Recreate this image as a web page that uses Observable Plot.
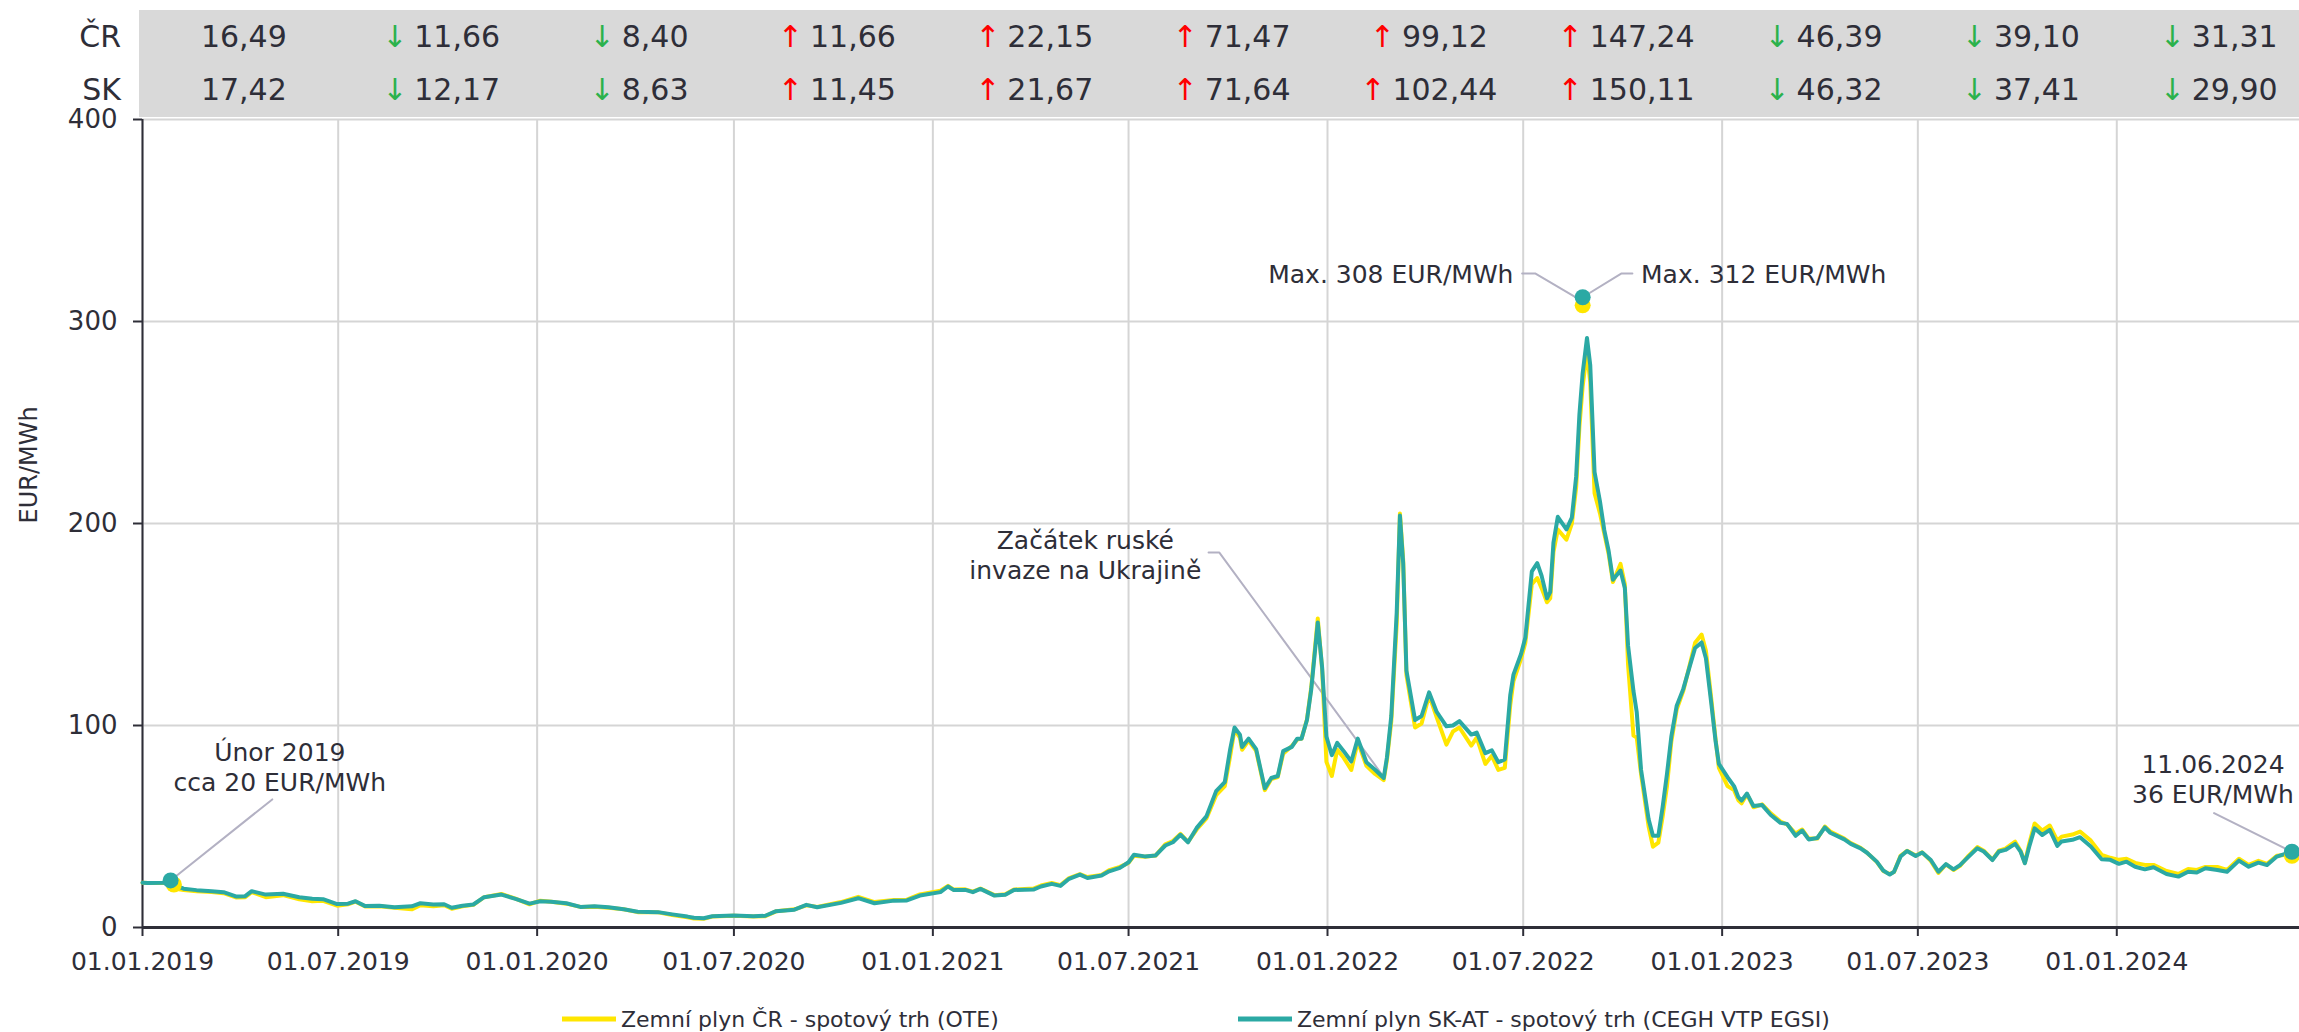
<!DOCTYPE html>
<html><head><meta charset="utf-8">
<script src="https://cdn.jsdelivr.net/npm/d3@7"></script>
<script src="https://cdn.jsdelivr.net/npm/@observablehq/plot@0.6"></script>
<style>
body{margin:0;background:#fff;font-family:"DejaVu Sans",sans-serif;color:#2e2e38;}
#wrap{position:relative;width:2299px;height:1032px;overflow:hidden;}
#chart{position:absolute;left:0;top:0;}
#band{position:absolute;left:139px;top:10px;width:2160px;height:107px;background:#d9d9d9;}
.cell{position:absolute;transform:translate(-50%,-50%);font-size:30px;white-space:nowrap;line-height:1;color:#2e2e38;}
.rowlab{position:absolute;transform:translate(-100%,-50%);font-size:30px;line-height:1;color:#2e2e38;}
.up{color:#ff0000;margin-right:7px}
.down{color:#2bb24c;margin-right:7px}
.leg{position:absolute;top:1019px;transform:translateY(-50%);display:flex;align-items:center;font-size:22px;white-space:nowrap;color:#2e2e38;}
.sw{width:54px;height:5px;margin-right:5px}
</style></head>
<body><div id="wrap"><div id="chart"></div><div id="band"></div></div>
<script>
// ---- time series ----
const dates = [
"2019-01-01","2019-01-06","2019-01-21","2019-01-27","2019-02-02","2019-02-08","2019-02-20","2019-03-06","2019-03-17","2019-03-29",
"2019-04-06","2019-04-12","2019-04-25","2019-05-11","2019-05-26","2019-06-07","2019-06-17","2019-06-30","2019-07-10","2019-07-17",
"2019-07-26","2019-08-08","2019-08-22","2019-09-07","2019-09-15","2019-09-27","2019-10-07","2019-10-14","2019-10-24","2019-11-03",
"2019-11-13","2019-11-29","2019-12-12","2019-12-25",
"2020-01-04","2020-01-14","2020-01-28","2020-02-10","2020-02-23","2020-03-07","2020-03-21","2020-04-03","2020-04-22","2020-05-05",
"2020-05-19","2020-05-25","2020-06-03","2020-06-11","2020-07-01","2020-07-19","2020-07-30","2020-08-09","2020-08-26","2020-09-06",
"2020-09-16","2020-10-08","2020-10-24","2020-11-08","2020-11-26","2020-12-08","2020-12-20",
"2021-01-08","2021-01-15","2021-01-20","2021-01-31","2021-02-07","2021-02-14","2021-02-27","2021-03-09","2021-03-17","2021-04-04",
"2021-04-11","2021-04-21","2021-04-29","2021-05-07","2021-05-17","2021-05-24","2021-06-06","2021-06-13","2021-06-23","2021-07-01",
"2021-07-06","2021-07-16","2021-07-26","2021-08-04","2021-08-11","2021-08-18","2021-08-25","2021-09-02","2021-09-11","2021-09-20",
"2021-09-28","2021-10-03","2021-10-07","2021-10-12","2021-10-14","2021-10-20","2021-10-27","2021-11-04","2021-11-10","2021-11-16",
"2021-11-21","2021-11-29","2021-12-04","2021-12-08","2021-12-13","2021-12-17","2021-12-23","2021-12-27","2021-12-31",
"2022-01-05","2022-01-10","2022-01-16","2022-01-23","2022-01-29","2022-02-06","2022-02-14","2022-02-22","2022-02-25","2022-03-01",
"2022-03-06","2022-03-09","2022-03-12","2022-03-15","2022-03-23","2022-03-29","2022-04-05","2022-04-12","2022-04-21","2022-04-27",
"2022-05-03","2022-05-14","2022-05-19","2022-05-27","2022-06-02","2022-06-08","2022-06-14","2022-06-19","2022-06-22","2022-06-29",
"2022-07-03","2022-07-09","2022-07-14","2022-07-18","2022-07-23","2022-07-26","2022-07-29","2022-08-02","2022-08-10","2022-08-15",
"2022-08-19","2022-08-22","2022-08-25","2022-08-29","2022-09-01","2022-09-05","2022-09-10","2022-09-14","2022-09-18","2022-09-22",
"2022-09-29","2022-10-03","2022-10-06","2022-10-11","2022-10-14","2022-10-18","2022-10-25","2022-10-29","2022-11-03","2022-11-07",
"2022-11-11","2022-11-15","2022-11-20","2022-11-26","2022-12-02","2022-12-07","2022-12-13","2022-12-17","2022-12-22","2022-12-26",
"2022-12-29",
"2023-01-06","2023-01-12","2023-01-16","2023-01-19","2023-01-24","2023-01-30","2023-02-07","2023-02-15","2023-02-24","2023-03-02",
"2023-03-10","2023-03-16","2023-03-22","2023-03-30","2023-04-06","2023-04-11","2023-04-24","2023-04-30","2023-05-09","2023-05-15",
"2023-05-24","2023-05-30","2023-06-05","2023-06-09","2023-06-15","2023-06-21","2023-06-29","2023-07-05","2023-07-13","2023-07-20",
"2023-07-27","2023-08-03","2023-08-09","2023-08-17","2023-08-25","2023-08-31","2023-09-08","2023-09-14","2023-09-20","2023-09-29",
"2023-10-04","2023-10-08","2023-10-12","2023-10-17","2023-10-24","2023-10-31","2023-11-07","2023-11-11","2023-11-21","2023-11-28",
"2023-12-08","2023-12-18","2023-12-26",
"2024-01-03","2024-01-10","2024-01-18","2024-01-27","2024-02-04","2024-02-16","2024-02-27","2024-03-07","2024-03-15","2024-03-23",
"2024-04-03","2024-04-12","2024-04-23","2024-05-02","2024-05-11","2024-05-19","2024-05-28","2024-06-06","2024-06-11"
];
// Zemní plyn SK-AT - spotový trh (CEGH VTP EGSI)
const skValues = [
22.2,22.0,22.2,22.8,20.5,19.2,18.5,18.0,17.5,15.3,
15.5,18.0,16.3,16.7,15.0,14.2,14.0,11.6,11.8,13.0,
10.6,10.8,10.0,10.5,12.0,11.4,11.5,9.8,10.8,11.4,
15.0,16.3,14.2,11.8,
13.0,12.8,12.0,10.2,10.5,10.0,9.0,7.8,7.6,6.5,
5.4,4.8,4.6,5.6,5.9,5.6,5.8,8.1,8.8,11.2,
10.0,12.2,14.5,12.0,13.3,13.4,15.8,
17.5,20.3,18.6,18.6,17.5,19.1,15.8,16.2,18.6,18.8,
20.3,21.6,20.6,24.1,26.2,24.5,25.7,27.8,29.5,32.3,
36.0,35.2,35.7,40.6,42.2,45.9,42.2,49.3,55.0,67.5,
72.0,88.3,99.0,95.5,89.4,93.5,88.3,68.9,74.0,75.0,
87.3,89.4,93.5,93.5,102.7,118.0,151.0,129.0,94.5,
85.3,91.4,87.3,82.2,93.5,81.8,78.1,74.0,84.3,104.7,
155.8,203.9,180.4,127.2,102.7,104.7,116.4,106.7,99.6,100.0,
102.2,95.5,96.5,86.3,87.7,81.8,83.2,114.9,125.2,135.4,
143.6,176.3,180.4,174.2,163.0,166.0,190.6,203.3,197.1,202.9,
223.3,254.0,274.4,291.8,278.5,225.4,211.0,196.7,186.5,172.2,
176.7,168.1,139.5,117.0,106.7,78.1,53.6,45.4,45.4,59.7,
76.1,94.5,109.8,118.0,129.2,138.4,141.1,133.3,110.8,92.0,
81.0,
74.4,70.0,64.5,62.8,66.3,60.1,60.6,55.7,51.8,51.3,
45.4,48.0,43.6,44.3,49.6,46.9,43.6,41.4,39.2,37.0,
32.6,28.2,26.2,27.6,35.1,37.9,35.4,37.1,33.4,27.6,
31.4,28.8,30.9,35.1,39.2,37.6,33.4,37.6,38.4,41.4,
37.6,31.8,40.0,49.1,45.8,48.3,40.4,42.6,43.4,44.7,
40.1,33.8,33.5,
31.5,32.6,30.1,28.8,29.8,26.5,25.2,27.6,27.2,29.3,
28.5,27.6,33.1,30.1,32.1,30.9,35.1,36.7,37.0
];
// Zemní plyn ČR - spotový trh (OTE)
const crValues = [
22.2,22.0,22.0,21.5,19.0,18.6,18.0,17.6,17.0,14.8,
15.0,17.5,15.0,16.0,14.0,13.0,13.2,10.8,11.5,12.8,
10.4,10.5,9.8,9.0,11.0,10.5,11.0,9.3,10.5,11.2,
15.0,16.6,14.3,11.5,
13.3,12.8,11.8,10.2,10.3,9.8,9.0,7.6,7.5,6.2,
5.0,4.4,4.3,5.4,5.8,5.5,5.6,8.0,9.0,11.0,
10.2,12.6,15.2,12.6,13.6,13.8,16.4,
18.2,20.6,18.8,18.9,17.8,19.3,16.0,16.5,18.8,19.3,
20.8,22.0,21.0,24.5,26.4,25.0,26.0,28.4,30.0,32.0,
35.5,35.0,35.6,41.2,42.8,46.3,42.4,48.5,54.0,65.5,
70.0,85.0,98.0,94.0,88.0,92.5,87.5,68.0,73.5,74.5,
86.0,89.8,93.0,93.5,103.0,119.0,153.0,128.0,82.0,
75.0,88.0,84.0,78.0,92.0,80.0,76.0,73.0,83.0,102.0,
150.0,205.0,182.0,125.0,99.0,101.0,115.0,104.0,90.5,97.0,
99.0,90.0,94.0,81.0,85.0,78.0,79.0,110.0,122.0,133.0,
141.0,170.0,173.0,168.0,161.0,163.0,186.0,197.0,192.0,200.0,
218.0,248.0,268.0,285.0,270.0,215.0,205.0,195.0,185.0,171.0,
180.0,170.0,130.0,95.0,94.0,76.0,50.0,40.0,42.0,55.0,
70.0,92.0,108.0,117.0,130.0,141.0,145.0,137.0,113.0,93.0,
79.0,
70.0,68.0,63.0,61.5,66.0,59.5,61.0,56.5,52.5,51.0,
46.5,48.5,44.0,44.0,50.0,47.5,44.0,41.8,39.5,37.0,
32.5,28.0,26.5,27.5,35.5,38.0,35.6,37.2,33.0,27.0,
31.2,28.5,30.5,35.6,39.8,38.0,33.6,38.0,39.0,42.5,
38.0,32.0,41.5,51.5,48.0,50.5,43.0,45.0,46.0,47.5,
43.0,36.0,34.5,
33.5,34.0,32.0,31.0,31.0,28.0,26.5,29.0,28.5,30.0,
30.0,28.5,34.0,31.0,33.0,31.5,35.5,36.0,35.5
];
if (dates.length !== skValues.length || dates.length !== crValues.length)
  throw new Error("length mismatch " + dates.length + " " + skValues.length + " " + crValues.length);

// ---- axis ticks / half-year periods ----
const xTicks = ["2019-01-01","2019-07-01","2020-01-01","2020-07-01","2021-01-01","2021-07-01",
                "2022-01-01","2022-07-01","2023-01-01","2023-07-01","2024-01-01"];
const yTicks = [0,100,200,300,400];
const xDomain = ["2019-01-01","2024-06-18"];

// ---- half-year averages table ----
const rowLabels = ["ČR","SK"];
const crAvg = ["16,49","11,66","8,40","11,66","22,15","71,47","99,12","147,24","46,39","39,10","31,31"];
const skAvg = ["17,42","12,17","8,63","11,45","21,67","71,64","102,44","150,11","46,32","37,41","29,90"];

// ---- annotations ----
const skDotDates = ["2019-01-27","2022-08-25","2024-06-11"];
const skDotValues = [23.3, 312, 37.5];
const crDotDates = ["2019-01-30","2022-08-25","2024-06-11"];
const crDotValues = [21.3, 308, 35.5];

const noteMidTexts = ["Únor 2019\ncca 20 EUR/MWh","Začátek ruské\ninvaze na Ukrajině","11.06.2024\n36 EUR/MWh"];
const noteMidDates = ["2019-05-08","2021-05-22","2024-03-30"];
const noteMidValues = [79.7, 184.7, 74];
const noteLeftText = ["Max. 308 EUR/MWh"];
const noteLeftDate = ["2022-06-22"];
const noteRightText = ["Max. 312 EUR/MWh"];
const noteRightDate = ["2022-10-18"];
const noteMaxValue = 322.8;

const leaderIds    = [0,0, 1,1,1, 2,2,2, 3,3,3, 4,4];
const leaderDates  = ["2019-05-01","2019-01-27",
                      "2021-09-13","2021-09-23","2022-02-20",
                      "2022-06-30","2022-07-12","2022-08-25",
                      "2022-08-25","2022-09-30","2022-10-10",
                      "2024-03-31","2024-06-11"];
const leaderValues = [63.4,23.3, 185.6,185.6,76, 323.8,323.8,310, 312,323.8,323.8, 56.6,37.5];

const COL_CR = "#FFE600", COL_SK = "#2BA9A4", INK = "#2e2e38", GRID = "#d5d5d5", LEAD = "#b3b1c3";

const D = s => new Date(s);
const crRows = dates.map((d,i) => ({date: D(d), value: crValues[i]}));
const skRows = dates.map((d,i) => ({date: D(d), value: skValues[i]}));
const crDots = crDotDates.map((d,i) => ({date: D(d), value: crDotValues[i]}));
const skDots = skDotDates.map((d,i) => ({date: D(d), value: skDotValues[i]}));
const midNotes = noteMidTexts.map((t,i) => ({text: t, date: D(noteMidDates[i]), value: noteMidValues[i]}));
const leaders = leaderIds.map((id,i) => ({id, date: D(leaderDates[i]), value: leaderValues[i]}));
const tickDates = xTicks.map(D);

const chart = Plot.plot({
  width: 2299, height: 990,
  marginTop: 119, marginBottom: 63, marginLeft: 142, marginRight: 0,
  style: {fontFamily: '"DejaVu Sans", sans-serif', fontSize: "25px", color: INK, background: "transparent", overflow: "visible"},
  x: {type: "utc", domain: xDomain.map(D)},
  y: {domain: [0, 400]},
  marks: [
    Plot.gridX(tickDates, {stroke: GRID, strokeOpacity: 1, strokeWidth: 2}),
    Plot.gridY(yTicks.slice(1), {stroke: GRID, strokeOpacity: 1, strokeWidth: 2}),
    Plot.axisX(tickDates, {tickFormat: d3.utcFormat("%d.%m.%Y"), tickSize: 9, tickPadding: 16, fontSize: 25, stroke: INK, strokeWidth: 2, fill: INK, label: null}),
    Plot.axisY(yTicks, {tickSize: 9, tickPadding: 16, fontSize: 26, stroke: INK, strokeWidth: 2, fill: INK, label: null}),
    Plot.ruleX([D(xDomain[0])], {stroke: INK, strokeWidth: 2}),
    Plot.text(["EUR/MWh"], {frameAnchor: "left", dx: -113, rotate: -90, fontSize: 24, fill: INK}),
    Plot.line(leaders, {x: "date", y: "value", z: "id", stroke: LEAD, strokeWidth: 2}),
    Plot.line(crRows, {x: "date", y: "value", stroke: COL_CR, strokeWidth: 4, strokeLinejoin: "round"}),
    Plot.line(skRows, {x: "date", y: "value", stroke: COL_SK, strokeWidth: 4, strokeLinejoin: "round"}),
    Plot.ruleY([0], {stroke: INK, strokeWidth: 3}),
    Plot.dot(crDots, {x: "date", y: "value", r: 8, fill: COL_CR}),
    Plot.dot(skDots, {x: "date", y: "value", r: 8, fill: COL_SK}),
    Plot.text(midNotes, {x: "date", y: "value", text: "text", fontSize: 25, lineHeight: 1.2, fill: INK}),
    Plot.text(noteLeftText, {x: () => D(noteLeftDate[0]), y: () => noteMaxValue, textAnchor: "end", fontSize: 25, fill: INK}),
    Plot.text(noteRightText, {x: () => D(noteRightDate[0]), y: () => noteMaxValue, textAnchor: "start", fontSize: 25, fill: INK})
  ]
});
document.getElementById("chart").appendChild(chart);

// ---- table of half-year averages, aligned to the x scale ----
const wrap = document.getElementById("wrap");
const xs = chart.scale("x");
const num = s => parseFloat(s.replace(",", "."));
const rowY = [37, 90];
rowLabels.forEach((lab, r) => {
  const el = document.createElement("div");
  el.className = "rowlab"; el.textContent = lab;
  el.style.left = "121px"; el.style.top = rowY[r] + "px";
  wrap.appendChild(el);
});
[crAvg, skAvg].forEach((arr, r) => {
  xTicks.forEach((p, i) => {
    const a = xs.apply(D(p)), b = xs.apply(d3.utcMonth.offset(D(p), 6));
    const el = document.createElement("div");
    el.className = "cell";
    el.style.left = ((a + b) / 2 + 4) + "px";
    el.style.top = rowY[r] + "px";
    if (i > 0) {
      const up = num(arr[i]) > num(arr[i - 1]);
      const s = document.createElement("span");
      s.className = up ? "up" : "down";
      s.textContent = up ? "↑" : "↓";
      el.appendChild(s);
    }
    el.appendChild(document.createTextNode(arr[i]));
    wrap.appendChild(el);
  });
});

// ---- legend ----
const legendItems = [
  {label: "Zemní plyn ČR - spotový trh (OTE)", color: COL_CR, left: 562},
  {label: "Zemní plyn SK-AT - spotový trh (CEGH VTP EGSI)", color: COL_SK, left: 1238}
];
legendItems.forEach(it => {
  const el = document.createElement("div");
  el.className = "leg"; el.style.left = it.left + "px";
  const sw = document.createElement("span"); sw.className = "sw"; sw.style.background = it.color;
  el.appendChild(sw);
  el.appendChild(document.createTextNode(it.label));
  wrap.appendChild(el);
});
</script>
</body></html>
